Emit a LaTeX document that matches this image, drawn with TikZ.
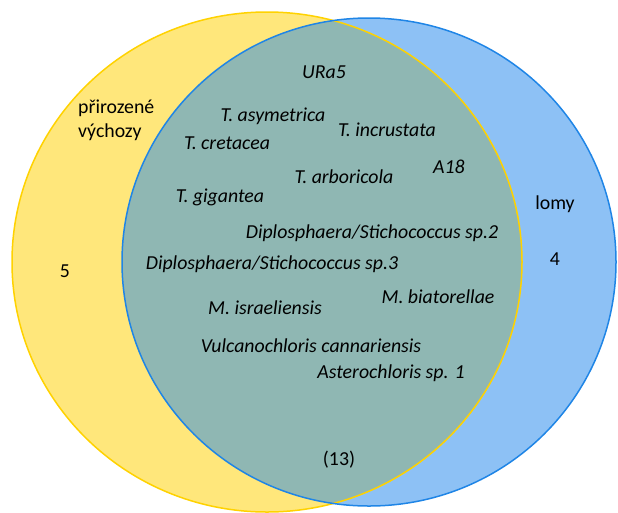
\documentclass[tikz,border=0pt]{standalone}
\usepackage{fontspec}
\setmainfont{Carlito}
\begin{document}
\begin{tikzpicture}[x=1pt,y=-1pt,
	taxon/.style={font=\fontsize{19.8}{23}\selectfont\itshape, inner sep=0pt},
	count/.style={font=\fontsize{19.8}{24}\selectfont, inner sep=0pt, align=left}]
	\useasboundingbox (0,0) rectangle (618,512);
	\pgfmathsetmacro{\Rxa}{255}
	\pgfmathsetmacro{\Rya}{250}
	\pgfmathsetmacro{\Rxb}{247}
	\pgfmathsetmacro{\Ryb}{244}
	\definecolor{natcol}{HTML}{FFE77B}
	\definecolor{natline}{HTML}{FFD200}
	\definecolor{quarcol}{HTML}{8DC1F5}
	\definecolor{quarline}{HTML}{1F85E6}
	\definecolor{bothcol}{HTML}{8FB7B3}
	\coordinate (natc) at (267,262);
	\coordinate (quarc) at (369,262);
	\fill[natcol] (natc) ellipse ({\Rxa} and \Rya);
	\fill[quarcol] (quarc) ellipse ({\Rxb} and \Ryb);
	\begin{scope}
		\clip (natc) ellipse ({\Rxa} and \Rya);
		\fill[bothcol] (quarc) ellipse ({\Rxb} and \Ryb);
	\end{scope}
	\draw[natline, line width=1.5pt] (natc) ellipse ({\Rxa} and \Rya);
	\draw[quarline, line width=1.5pt] (quarc) ellipse ({\Rxb} and \Ryb);
	% set labels
	\node[count, anchor=west] (nat) at (78,120) {přirozené\\výchozy};
	\node[count] (quar) at (555,204) {lomy};
	\node[count] (natonly) at (65,271) {5};
	\node[count] (quaronly) at (555,259) {4};
	\node[count] (shared) at (339,460) {(13)};
	% shared taxa
	\node[taxon] (ura) at (324,72) {URa5};
	\node[taxon] (asym) at (273,116) {T. asymetrica};
	\node[taxon] (incr) at (387,130) {T. incrustata};
	\node[taxon] (cret) at (227,143) {T. cretacea};
	\node[taxon] (afe) at (449,167) {A18};
	\node[taxon] (arbo) at (344,177) {T. arboricola};
	\node[taxon] (giga) at (220,197) {T. gigantea};
	\node[taxon] (dstwo) at (372,233) {Diplosphaera/Stichococcus sp.2};
	\node[taxon] (dsthree) at (272,264) {Diplosphaera/Stichococcus sp.3};
	\node[taxon] (biat) at (438,297) {M. biatorellae};
	\node[taxon] (isra) at (265,308) {M. israeliensis};
	\node[taxon] (vulc) at (311,346) {Vulcanochloris cannariensis};
	\node[taxon] (aste) at (391,373) {Asterochloris sp. 1};
\end{tikzpicture}
\end{document}
